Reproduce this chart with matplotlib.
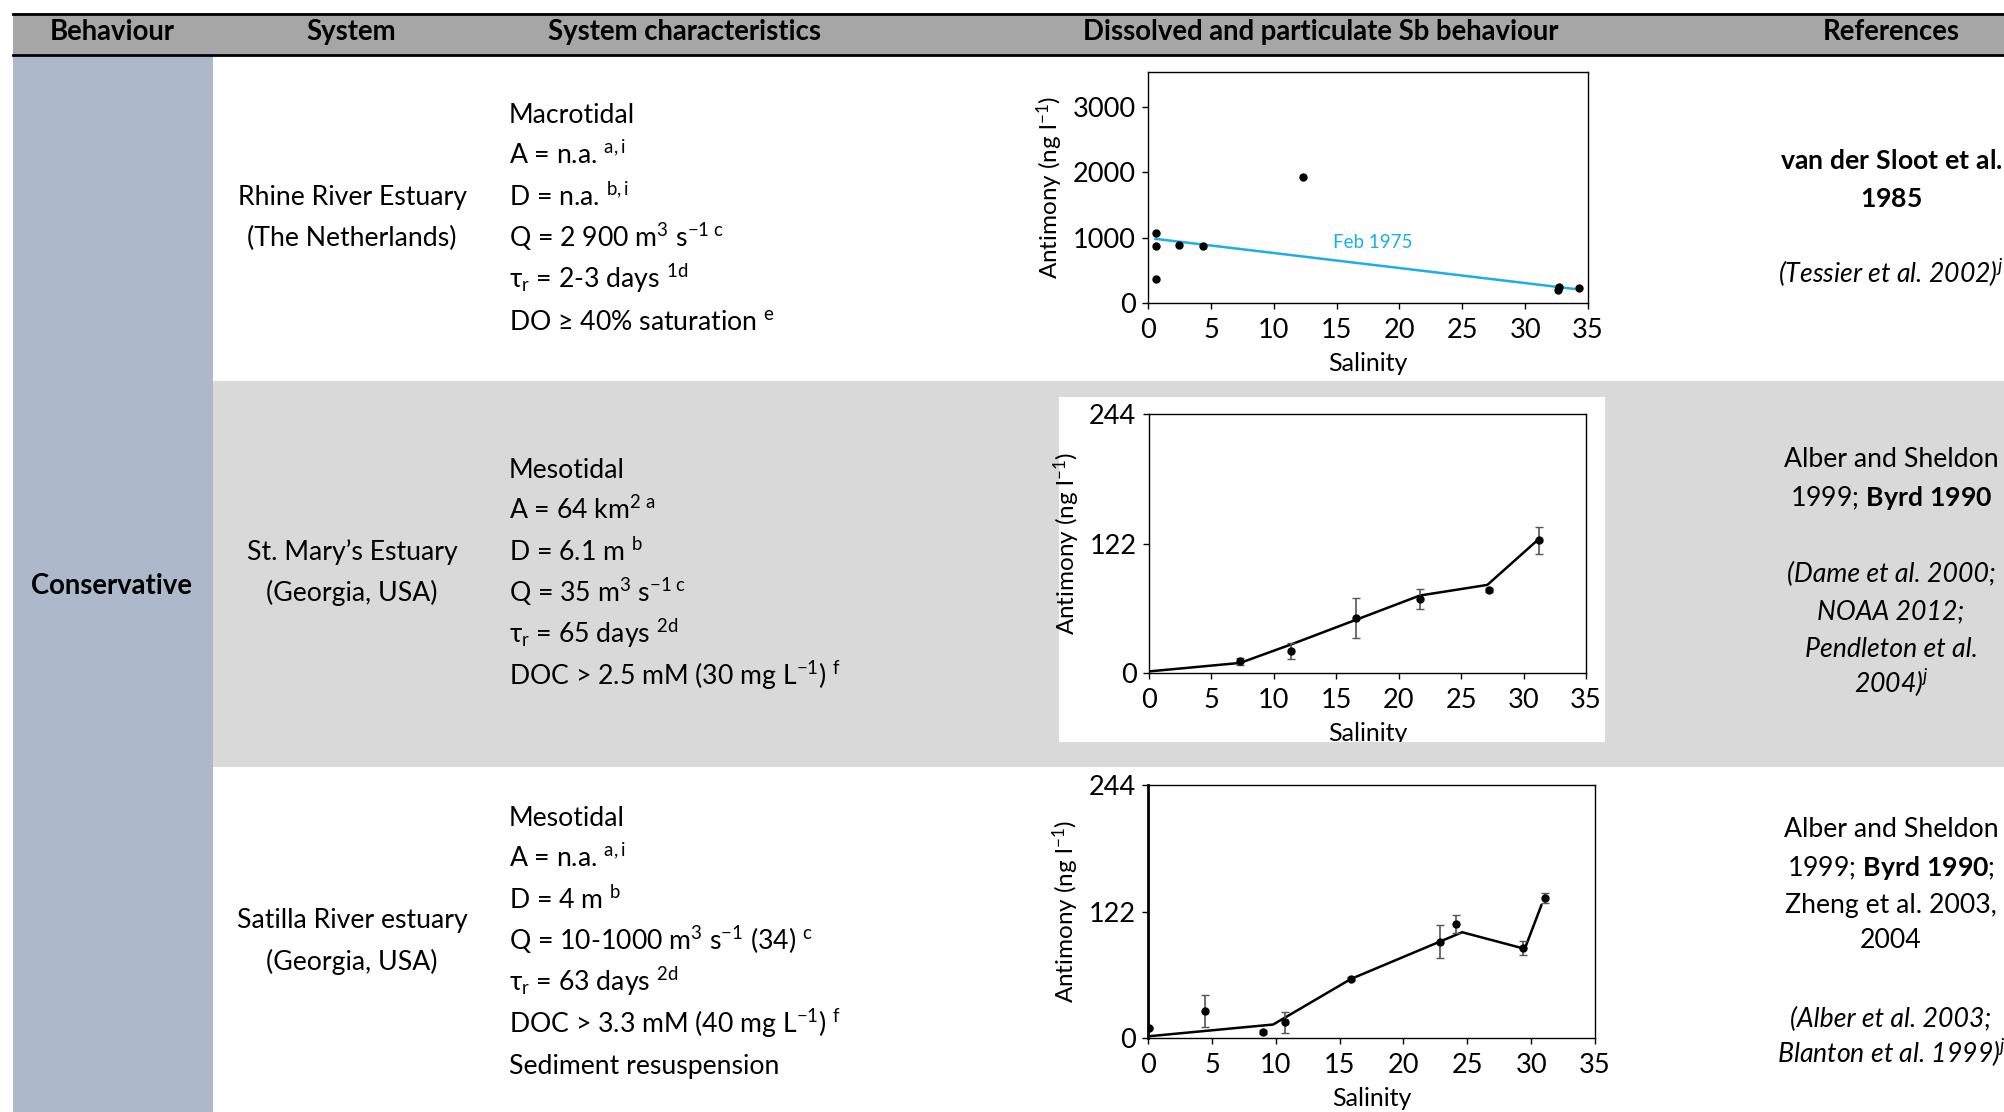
import matplotlib
matplotlib.use('Agg')
import matplotlib.pyplot as plt
from matplotlib.patches import Rectangle
from matplotlib.lines import Line2D

plt.rcParams['font.family'] = ['Lato', 'DejaVu Sans']
plt.rcParams['mathtext.fontset'] = 'custom'
plt.rcParams['mathtext.rm'] = 'Lato'
plt.rcParams['mathtext.it'] = 'Lato:italic'
plt.rcParams['mathtext.bf'] = 'Lato:bold'
plt.rcParams['mathtext.default'] = 'regular'

# ---- data ----
rhine_sal = [0.6, 0.6, 0.6, 2.5, 4.4, 12.3, 32.6, 32.7, 34.3]
rhine_sb = [1070, 865, 365, 885, 865, 1920, 195, 240, 235]
rhine_fit_sal = [0.6, 33.9]
rhine_fit_sb = [980, 215]

stmary_sal = [7.3, 11.4, 16.6, 21.7, 27.2, 31.2]
stmary_sb = [11, 21, 52, 70, 78, 125]
stmary_err = [3, 7.5, 19, 9.6, 2, 13]
stmary_line_sal = [0, 7.3, 11.4, 21.7, 27.1, 31.2]
stmary_line_sb = [1.5, 9.5, 27, 73, 83, 126]

satilla_sal = [0.05, 4.5, 9.0, 10.7, 15.9, 22.9, 24.1, 29.4, 31.1]
satilla_sb = [10, 26, 6, 15, 57, 93, 110, 87, 135]
satilla_err = [0, 15, 2, 10, 1.5, 16, 9, 7, 5]
satilla_line_sal = [0, 9.8, 15.9, 24.6, 29.5, 30.8]
satilla_line_sb = [1.6, 13, 57, 102, 86, 128]

# ---- table text ----
headers = ['Behaviour', 'System', 'System characteristics',
           'Dissolved and particulate Sb behaviour', 'References']
header_x = [112, 351, 684, 1321, 1891]

systems = [['Rhine River Estuary', '(The Netherlands)'],
           ['St. Mary\u2019s Estuary', '(Georgia, USA)'],
           ['Satilla River estuary', '(Georgia, USA)']]
system_y = [[205, 246], [560, 601], [928, 970]]

chars = [
    ['Macrotidal', r'A = n.a. $^{a,i}$', r'D = n.a. $^{b,i}$',
     r'Q = 2 900 m$^{3}$ s$^{-1\ c}$', r'$\tau_{r}$ = 2-3 days $^{1d}$',
     'DO \u2265 40% saturation $^{e}$'],
    ['Mesotidal', r'A = 64 km$^{2\ a}$', r'D = 6.1 m $^{b}$',
     r'Q = 35 m$^{3}$ s$^{-1\ c}$', r'$\tau_{r}$ = 65 days $^{2d}$',
     r'DOC > 2.5 mM (30 mg L$^{-1}$) $^{f}$'],
    ['Mesotidal', r'A = n.a. $^{a,i}$', r'D = 4 m $^{b}$',
     r'Q = 10-1000 m$^{3}$ s$^{-1}$ (34) $^{c}$', r'$\tau_{r}$ = 63 days $^{2d}$',
     r'DOC > 3.3 mM (40 mg L$^{-1}$) $^{f}$', 'Sediment resuspension'],
]
chars_y0 = [123, 478, 826]

refs = [
    [(r'$\mathbf{van\ der\ Sloot\ et\ al.}$', 'normal', 169),
     (r'$\mathbf{1985}$', 'normal', 207),
     (r'(Tessier et al. 2002)$^{j}$', 'italic', 283)],
    [('Alber and Sheldon', 'normal', 467),
     (r'1999; $\mathbf{Byrd\ 1990}$', 'normal', 506),
     ('(Dame et al. 2000;', 'italic', 582),
     ('NOAA 2012;', 'italic', 619),
     ('Pendleton et al.', 'italic', 657),
     (r'2004)$^{j}$', 'italic', 693)],
    [('Alber and Sheldon', 'normal', 837),
     (r'1999; $\mathbf{Byrd\ 1990}$;', 'normal', 876),
     ('Zheng et al. 2003,', 'normal', 913),
     ('2004', 'normal', 948),
     ('(Alber et al. 2003;', 'italic', 1027),
     (r'Blanton et al. 1999)$^{j}$', 'italic', 1063)],
]

W, H = 2004, 1112
fig = plt.figure(figsize=(W / 100, H / 100), dpi=100)


def fx(x):
    return x / W


def fy(y):
    return 1 - y / H


def add_rect(x0, y0, x1, y1, color):
    r = Rectangle((fx(x0), fy(y1)), (x1 - x0) / W, (y1 - y0) / H,
                  transform=fig.transFigure, facecolor=color,
                  edgecolor='none', zorder=-1)
    fig.patches.append(r)
    return r


def place_axes(left, top, right, bottom):
    return fig.add_axes([fx(left), fy(bottom), (right - left) / W, (bottom - top) / H])


# backgrounds
add_rect(13, 13, W, 55, '#a6a6a6')
add_rect(13, 55, 213, H, '#adb9ca')
add_rect(213, 381, W, 767, '#d9d9d9')
box2 = add_rect(1059, 397, 1605, 742, 'white')

for yy in [13.5, 54.5]:
    fig.add_artist(Line2D([fx(13), 1], [fy(yy), fy(yy)], color='black', lw=2,
                          transform=fig.transFigure, zorder=5))

fs = 19.2
hfs = 19.8
for h, x in zip(headers, header_x):
    fig.text(fx(x), fy(40), h, ha='center', va='baseline', fontsize=hfs, weight='bold')

fig.text(fx(112), fy(594), 'Conservative', ha='center', va='baseline', fontsize=hfs, weight='bold')

for lines, ys in zip(systems, system_y):
    for s, y in zip(lines, ys):
        fig.text(fx(352), fy(y), s, ha='center', va='baseline', fontsize=fs)

for lines, y0 in zip(chars, chars_y0):
    for i, s in enumerate(lines):
        fig.text(fx(509), fy(y0 + 41.3 * i), s, ha='left', va='baseline', fontsize=fs)

for block in refs:
    for s, style, y in block:
        fig.text(fx(1891), fy(y), s, ha='center', va='baseline', fontsize=fs, style=style)


def style_axes(ax, ymax, yticks):
    ax.set_xlim(0, 35)
    ax.set_ylim(0, ymax)
    ax.set_xticks([0, 5, 10, 15, 20, 25, 30, 35])
    ax.set_yticks(yticks)
    ax.tick_params(direction='out', length=4, width=1, labelsize=19.5, pad=5)
    ax.tick_params(axis='x', pad=7)
    for sp in ax.spines.values():
        sp.set_linewidth(1)
    ax.set_xlabel('Salinity', fontsize=18, labelpad=6)
    ax.set_ylabel(r'Antimony (ng l$^{-1}$)', fontsize=17.5, labelpad=5)
    ax.set_facecolor('white')


# Rhine
ax1 = place_axes(1148, 72, 1588, 303)
style_axes(ax1, 3530, [0, 1000, 2000, 3000])
ax1.plot(rhine_fit_sal, rhine_fit_sb, color='#1aafe6', lw=1.8)
ax1.plot(rhine_sal, rhine_sb, 'o', color='black', ms=5)
ax1.text(14.7, 930, 'Feb 1975', color='#1aafe6', fontsize=13.5, va='center', ha='left')

# St. Mary's
ax2 = place_axes(1149, 414, 1586, 673)
style_axes(ax2, 244, [0, 122, 244])
ax2.plot(stmary_line_sal, stmary_line_sb, color='black', lw=1.8)
ax2.errorbar(stmary_sal, stmary_sb, yerr=stmary_err, fmt='o', color='black', ms=5,
             ecolor='#555555', elinewidth=1.2, capsize=3)
ax2.xaxis.label.set_clip_path(box2)

# Satilla
ax3 = place_axes(1148, 785, 1595, 1038)
style_axes(ax3, 244, [0, 122, 244])
ax3.spines['left'].set_linewidth(2)
ax3.plot(satilla_line_sal, satilla_line_sb, color='black', lw=1.8)
ax3.errorbar(satilla_sal, satilla_sb, yerr=satilla_err, fmt='o', color='black', ms=5,
             ecolor='#555555', elinewidth=1.2, capsize=3)

fig.savefig('out.png', dpi=100)
